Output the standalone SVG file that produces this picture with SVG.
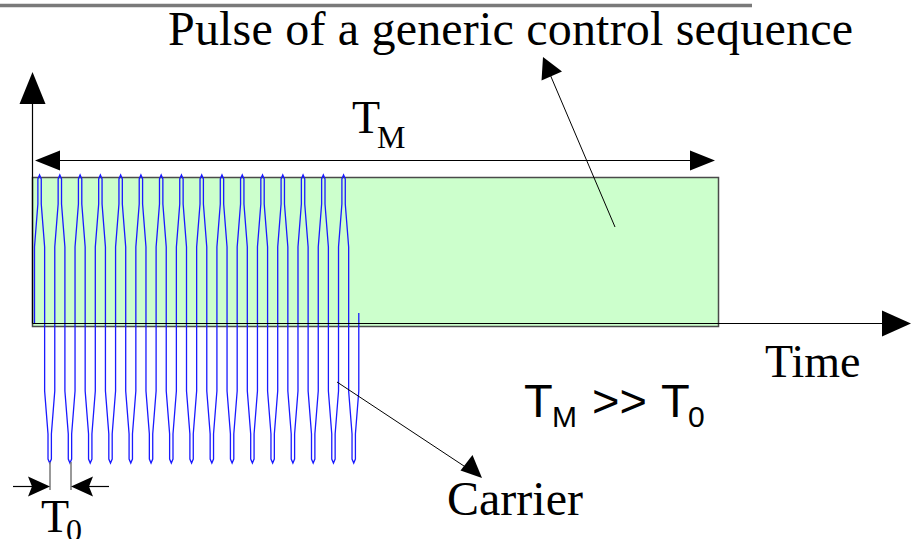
<svg xmlns="http://www.w3.org/2000/svg" width="911" height="539" viewBox="0 0 911 539">
<style>
.serif{font-family:"Liberation Serif","Times New Roman",serif;fill:#000}
.sans{font-family:"Liberation Sans",Arial,sans-serif;fill:#000}
.ln{stroke:#000;stroke-width:1.2;fill:none}
.head{fill:#000;stroke:none}
.wave{fill:none;stroke:#1a1aff;stroke-width:1.3;stroke-linejoin:miter}
</style>
<rect x="0" y="0" width="911" height="539" fill="#fff"/>
<line x1="0" y1="5.5" x2="752" y2="5.5" stroke="#7a7a7a" stroke-width="3.5"/>

<g id="pulse">
<rect x="32.5" y="177.5" width="686" height="149" fill="#ccffcc" stroke="#4a4a4a" stroke-width="1.5"/>
</g>

<g id="carrier">
<path class="wave" d="M34.5,323 V247 l3.378,-43 v-25 l1.689,-4 1.689,4 v25 l3.378,43 v144 l3.378,43 v25 l1.689,4 1.689,-4 v-25 l3.378,-43
v-144 l3.378,-43 v-25 l1.689,-4 1.689,4 v25 l3.378,43 v144 l3.378,43 v25 l1.689,4 1.689,-4 v-25 l3.378,-43
v-144 l3.378,-43 v-25 l1.689,-4 1.689,4 v25 l3.378,43 v144 l3.378,43 v25 l1.689,4 1.689,-4 v-25 l3.378,-43
v-144 l3.378,-43 v-25 l1.689,-4 1.689,4 v25 l3.378,43 v144 l3.378,43 v25 l1.689,4 1.689,-4 v-25 l3.378,-43
v-144 l3.378,-43 v-25 l1.689,-4 1.689,4 v25 l3.378,43 v144 l3.378,43 v25 l1.689,4 1.689,-4 v-25 l3.378,-43
v-144 l3.378,-43 v-25 l1.689,-4 1.689,4 v25 l3.378,43 v144 l3.378,43 v25 l1.689,4 1.689,-4 v-25 l3.378,-43
v-144 l3.378,-43 v-25 l1.689,-4 1.689,4 v25 l3.378,43 v144 l3.378,43 v25 l1.689,4 1.689,-4 v-25 l3.378,-43
v-144 l3.378,-43 v-25 l1.689,-4 1.689,4 v25 l3.378,43 v144 l3.378,43 v25 l1.689,4 1.689,-4 v-25 l3.378,-43
v-144 l3.378,-43 v-25 l1.689,-4 1.689,4 v25 l3.378,43 v144 l3.378,43 v25 l1.689,4 1.689,-4 v-25 l3.378,-43
v-144 l3.378,-43 v-25 l1.689,-4 1.689,4 v25 l3.378,43 v144 l3.378,43 v25 l1.689,4 1.689,-4 v-25 l3.378,-43
v-144 l3.378,-43 v-25 l1.689,-4 1.689,4 v25 l3.378,43 v144 l3.378,43 v25 l1.689,4 1.689,-4 v-25 l3.378,-43
v-144 l3.378,-43 v-25 l1.689,-4 1.689,4 v25 l3.378,43 v144 l3.378,43 v25 l1.689,4 1.689,-4 v-25 l3.378,-43
v-144 l3.378,-43 v-25 l1.689,-4 1.689,4 v25 l3.378,43 v144 l3.378,43 v25 l1.689,4 1.689,-4 v-25 l3.378,-43
v-144 l3.378,-43 v-25 l1.689,-4 1.689,4 v25 l3.378,43 v144 l3.378,43 v25 l1.689,4 1.689,-4 v-25 l3.378,-43
v-144 l3.378,-43 v-25 l1.689,-4 1.689,4 v25 l3.378,43 v144 l3.378,43 v25 l1.689,4 1.689,-4 v-25 l3.378,-43
v-144 l3.378,-43 v-25 l1.689,-4 1.689,4 v25 l3.378,43 v144 l3.378,43 v25 l1.689,4 1.689,-4 v-25 l3.378,-43
V313"/>
</g>

<g id="connectors">
<line class="ln" x1="32.5" y1="323.5" x2="884" y2="323.5"/>
<polygon class="head" points="911,323.5 882,310.5 882,336.5"/>
<line class="ln" x1="32.5" y1="323.5" x2="32.5" y2="100"/>
<polygon class="head" points="32.5,72 19.5,104 45.5,104"/>
<line class="ln" x1="55" y1="160.5" x2="695" y2="160.5"/>
<polygon class="head" points="35,160.5 60,150.5 60,170.5"/>
<polygon class="head" points="715,160.5 690,150.5 690,170.5"/>
<line x1="615" y1="227" x2="549" y2="72" stroke="#000" stroke-width="1"/>
<polygon class="head" points="543,57 541.5,80.5 562,71.5"/>
<line x1="337" y1="382" x2="470" y2="470" stroke="#000" stroke-width="1"/>
<polygon class="head" points="482,478 460.5,470.5 472.5,455"/>
<line x1="50" y1="462" x2="50" y2="490" stroke="#777" stroke-width="1.5"/>
<line x1="71" y1="462" x2="71" y2="490" stroke="#777" stroke-width="1.5"/>
<line class="ln" x1="13" y1="486.5" x2="35" y2="486.5"/>
<polygon class="head" points="50,486.5 28,476.5 32,486.5 28,496.5"/>
<line class="ln" x1="86" y1="486.5" x2="109" y2="486.5"/>
<polygon class="head" points="71,486.5 93,476.5 89,486.5 93,496.5"/>
</g>

<g id="labels">
<text class="serif" x="168" y="45" font-size="48" textLength="685" lengthAdjust="spacing">Pulse of a generic control sequence</text>
<text class="serif" font-size="46"><tspan x="352" y="133">T</tspan><tspan x="377" y="148" font-size="32">M</tspan></text>
<text class="serif" x="765" y="377" font-size="46">Time</text>
<text class="sans" font-size="47"><tspan x="524" y="417">T</tspan><tspan x="552" y="427" font-size="30">M</tspan><tspan x="592" y="417">&gt;&gt;</tspan><tspan x="661" y="417">T</tspan><tspan x="688" y="427" font-size="30">0</tspan></text>
<text class="serif" x="447" y="515" font-size="48">Carrier</text>
<text class="serif" font-size="46"><tspan x="41" y="532">T</tspan><tspan x="66" y="541" font-size="32">0</tspan></text>
</g>
</svg>
